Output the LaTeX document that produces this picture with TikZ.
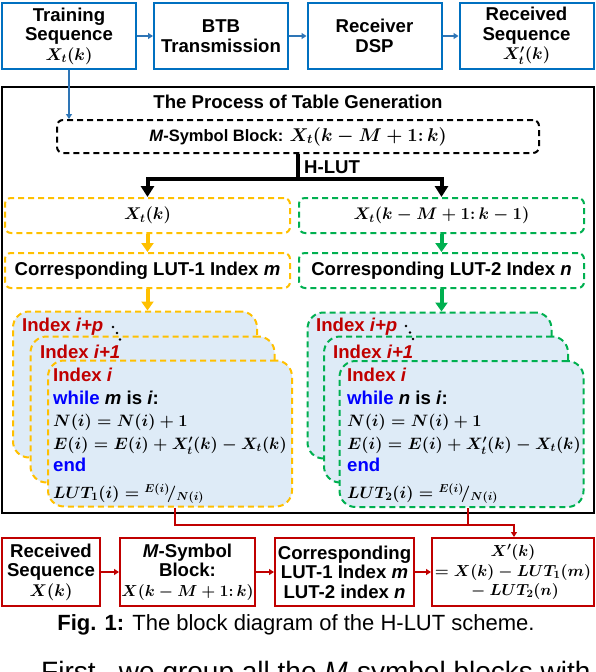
\RequirePackage{fix-cm}
\documentclass[tikz,border=0pt]{standalone}
\usepackage[no-math]{fontspec}
\setmainfont{Liberation Sans}
\usetikzlibrary{arrows.meta}
\definecolor{tblue}{RGB}{0,112,192}
\definecolor{ablue}{RGB}{46,117,182}
\definecolor{lutyellow}{RGB}{255,192,0}
\definecolor{lutgreen}{RGB}{0,176,80}
\definecolor{lutred}{RGB}{192,0,0}
\definecolor{cardfill}{RGB}{222,235,247}
\definecolor{keyblue}{RGB}{0,0,255}
\newcommand\mth[2]{{\fontsize{#1}{#1}\selectfont$#2$}}

\begin{document}
\begin{tikzpicture}[x=1pt, y=-1pt,
    txt/.style={font=\fontsize{18.6}{19.5}\selectfont\bfseries\boldmath},
    topbox/.style={rectangle, draw=tblue, line width=2pt, minimum width=134pt, minimum height=66pt, align=center, inner sep=1pt, txt},
    botbox/.style={rectangle, draw=lutred, line width=2pt, minimum height=68pt, align=center, inner sep=1pt, txt},
    ybox/.style={rectangle, draw=lutyellow, line width=2pt, dash pattern=on 6pt off 4pt, rounded corners=6pt, minimum width=285pt, minimum height=35pt, txt},
    gbox/.style={ybox, draw=lutgreen},
    ycard/.style={rectangle, draw=lutyellow, fill=cardfill, line width=2pt, dash pattern=on 6pt off 4pt, rounded corners=16pt, minimum width=244pt, minimum height=146pt},
    gcard/.style={ycard, draw=lutgreen},
    idx/.style={anchor=base west, inner sep=0pt, text=lutred, txt},
    code/.style={anchor=north west, align=left, inner sep=0pt, font=\fontsize{18.6}{22.5}\selectfont\bfseries\boldmath},
    barr/.style={-{Triangle[width=6pt,length=5pt]}, draw=ablue, line width=1.8pt},
    rarr/.style={-{Triangle[width=6pt,length=5pt]}, draw=lutred, line width=1.8pt},
    yarr/.style={-{Triangle[width=12pt,length=9pt]}, draw=lutyellow, line width=4pt},
    garr/.style={yarr, draw=lutgreen},
    harr/.style={-{Triangle[width=13pt,length=11pt]}, line width=4pt}
  ]
    \useasboundingbox (0,0) rectangle (596,672);
    \clip (0,0) rectangle (596,672);

    \node[topbox] (train) at (69,36) {Training\\Sequence\\\mth{17}{X_t(k)}};
    \node[topbox] (btb) at (221,36) {BTB\\Transmission};
    \node[topbox] (dsp) at (374.5,36) {Receiver\\DSP};
    \node[topbox] (recv) at (526.5,36) {Received\\Sequence\\\mth{17}{X'_t(k)}};
    \draw[barr] (train) -- (btb);
    \draw[barr] (btb) -- (dsp);
    \draw[barr] (dsp) -- (recv);

    \node[draw, line width=2.5pt, minimum width=592pt, minimum height=426pt] (frame) at (298,300) {};
    \node[txt] (title) at (298,102) {The Process of Table Generation};
    \node[draw, line width=2pt, dash pattern=on 6pt off 4pt, rounded corners=6pt, minimum width=482pt, minimum height=33pt, font=\fontsize{16.5}{19}\selectfont\bfseries\boldmath] (blk) at (298,136.5) {\textit{M}-Symbol Block: \mth{18.5}{X_t(k-M+1{:}\,k)}};
    \draw[barr] (train.south) -- (train.south |- blk.north);

    \coordinate (split) at (298,179);
    \node[ybox] (ytop) at (147.5,215.5) {\mth{17}{X_t(k)}};
    \node[ybox] (yidx) at (147.5,270.5) {Corresponding LUT-1 Index \textit{m}};
    \node[gbox] (gtop) at (441.5,215.5) {\mth{16.8}{X_t(k-M+1{:}\,k-1)}};
    \node[gbox] (gidx) at (441.5,270.5) {Corresponding LUT-2 Index \textit{n}};
    \draw[line width=4pt] (blk.south) -- (split);
    \draw[harr] (split) -| (ytop.north);
    \draw[harr] (split) -| (gtop.north);
    \node[anchor=west, inner sep=0pt, txt] (hlut) at (304,167) {H-LUT};
    \draw[yarr] (ytop) -- (yidx);
    \draw[garr] (gtop) -- (gidx);

    \node[ycard] (yp) at (135,384.5) {};
    \node[ycard] (y1) at (152.5,409.5) {};
    \node[ycard] (yi) at (170,433.5) {};
    \draw[yarr] (yidx.south) -- (yidx.south |- yp.north);
    \node[idx] (ypl) at (22,331) {Index \textit{i+p}};
    \node[idx] (y1l) at (40,358) {Index \textit{i+1}};
    \fill (113,327) circle (1.4pt) (117,333) circle (1.4pt) (120,339.5) circle (1.4pt);
    \node[code] (ycode) at (53,368) {\textcolor{lutred}{Index \textit{i}}\\
      \textcolor{keyblue}{while} \textit{m} is \textit{i}:\\
      \mth{16.5}{N(i)=N(i)+1}\\
      \mth{16.5}{E(i)=E(i)+X'_t(k)-X_t(k)}\\
      \textcolor{keyblue}{end}\\[4pt]
      \mth{16.5}{LUT_1(i)={}^{E(i)}\!/_{N(i)}}};

    \node[gcard] (gp) at (429.5,385.5) {};
    \node[gcard] (g1) at (446,409.5) {};
    \node[gcard] (gi) at (461.5,434) {};
    \draw[garr] (gidx.south) -- (gidx.south |- gp.north);
    \node[idx] (gpl) at (316,331) {Index \textit{i+p}};
    \node[idx] (g1l) at (333,358) {Index \textit{i+1}};
    \fill (406,326) circle (1.4pt) (410,332.5) circle (1.4pt) (413,339) circle (1.4pt);
    \node[code] (gcode) at (347,368) {\textcolor{lutred}{Index \textit{i}}\\
      \textcolor{keyblue}{while} \textit{n} is \textit{i}:\\
      \mth{16.5}{N(i)=N(i)+1}\\
      \mth{16.5}{E(i)=E(i)+X'_t(k)-X_t(k)}\\
      \textcolor{keyblue}{end}\\[4pt]
      \mth{16.5}{LUT_2(i)={}^{E(i)}\!/_{N(i)}}};

    \node[botbox, minimum width=98pt] (rx) at (51,572) {Received\\Sequence\\\mth{17}{X(k)}};
    \node[botbox, minimum width=135pt] (msb) at (187.5,572) {\textit{M}-Symbol\\Block:\\\mth{16}{X(k-M+1{:}\,k)}};
    \node[botbox, minimum width=139pt] (corr) at (344.5,572) {Corresponding\\LUT-1 Index \textit{m}\\LUT-2 index \textit{n}};
    \node[botbox, minimum width=162pt] (out) at (513,572) {\mth{16}{X'(k)}\\\mth{16}{=X(k)-LUT_1(m)}\\\mth{16}{{}-LUT_2(n)}};
    \draw[rarr] (rx) -- (msb);
    \draw[rarr] (msb) -- (corr);
    \draw[rarr] (corr) -- (out);
    \coordinate (bus) at (514,525);
    \draw[rarr] ([xshift=5pt]yi.south) |- (bus) -- (bus |- out.north);
    \draw[draw=lutred, line width=1.8pt] ([xshift=6.5pt]gi.south) -- ([xshift=6.5pt]gi.south |- bus);

    \node[font=\fontsize{22}{26}\selectfont] (cap) at (296,624.5) {\textbf{Fig. 1:} The block diagram of the H-LUT scheme.};
    \node[anchor=base west, inner sep=0pt, font=\fontsize{28}{32}\selectfont] (body) at (41,681) {First,\ \ we group all the \textit{M}-symbol blocks with};
  \end{tikzpicture}
\end{document}
